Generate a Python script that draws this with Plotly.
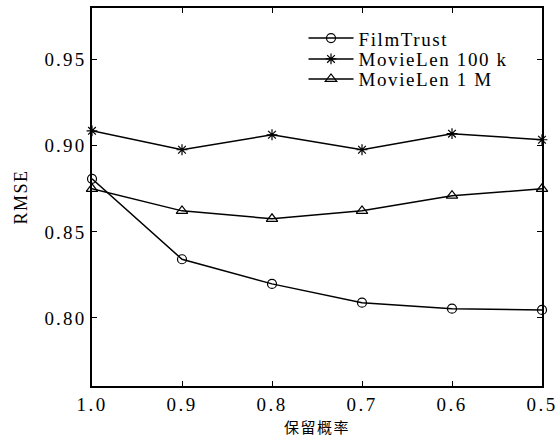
import plotly.graph_objects as go

x_vals = [1.0, 0.9, 0.8, 0.7, 0.6, 0.5]
filmtrust = [0.8808, 0.8341, 0.8198, 0.8089, 0.8054, 0.8047]
ml100k = [0.9087, 0.8977, 0.9064, 0.8977, 0.9070, 0.9035]
ml1m = [0.8750, 0.8622, 0.8576, 0.8622, 0.8710, 0.8750]
x_ticks = [1.0, 0.9, 0.8, 0.7, 0.6, 0.5]
x_tick_text = ["1.0", "0.9", "0.8", "0.7", "0.6", "0.5"]
y_ticks = [0.80, 0.85, 0.90, 0.95]
y_tick_text = ["0.80", "0.85", "0.90", "0.95"]
series_names = ["FilmTrust", "MovieLen 100 k", "MovieLen 1 M"]


def spaced(t, px=2):
    return '<span style="letter-spacing:%spx">%s</span>' % (px, t)


font = "Liberation Serif, Times New Roman, serif"
fig = go.Figure()
styles = [("circle-open", 9), ("asterisk-open", 9), ("triangle-up-open", 10)]
legend_ids = ["legend", "legend2", "legend3"]
for name, ys, (sym, sz), lid in zip(series_names, [filmtrust, ml100k, ml1m], styles, legend_ids):
    fig.add_trace(go.Scatter(
        x=x_vals, y=ys, name=spaced(name, 1.6), mode="lines+markers",
        line=dict(color="black", width=1.5),
        marker=dict(symbol=sym, size=sz, color="black", line=dict(color="black", width=1.2)),
        cliponaxis=False, legend=lid,
    ))

axis_common = dict(
    showgrid=False, zeroline=False, showline=True, linecolor="black", linewidth=1.5,
    mirror="ticks", ticks="inside", ticklen=5, tickwidth=1.2, tickcolor="black",
    tickfont=dict(family=font, size=19, color="black"), ticklabeloverflow="allow",
    automargin=False,
)
fig.update_xaxes(range=[1.0, 0.5], tickvals=x_ticks, ticktext=[spaced(t, 2.5) for t in x_tick_text],
                 title=dict(text=spaced("保留概率", 1.5),
                            font=dict(family="Noto Sans CJK SC", size=15, color="black"), standoff=9),
                 **axis_common)
fig.update_yaxes(range=[0.7605, 0.980], tickvals=y_ticks, ticktext=[spaced(t, 2.2) for t in y_tick_text],
                 title=dict(text=spaced("RMSE", 1.5), font=dict(family=font, size=18, color="black"), standoff=12),
                 **axis_common)

leg_common = dict(xanchor="left", yanchor="middle", font=dict(family=font, size=19, color="black"),
                  bgcolor="rgba(0,0,0,0)", borderwidth=0, itemwidth=45)
fig.update_layout(
    width=557, height=443,
    margin=dict(l=92, r=15, t=8, b=57),
    paper_bgcolor="white", plot_bgcolor="white",
    showlegend=True,
    legend=dict(x=0.470, y=0.920, **leg_common),
    legend2=dict(x=0.470, y=0.865, **leg_common),
    legend3=dict(x=0.470, y=0.812, **leg_common),
)
fig.write_html("out.html", config={"displayModeBar": False},
               post_script="document.body.style.margin='0';document.body.style.overflow='hidden';")
